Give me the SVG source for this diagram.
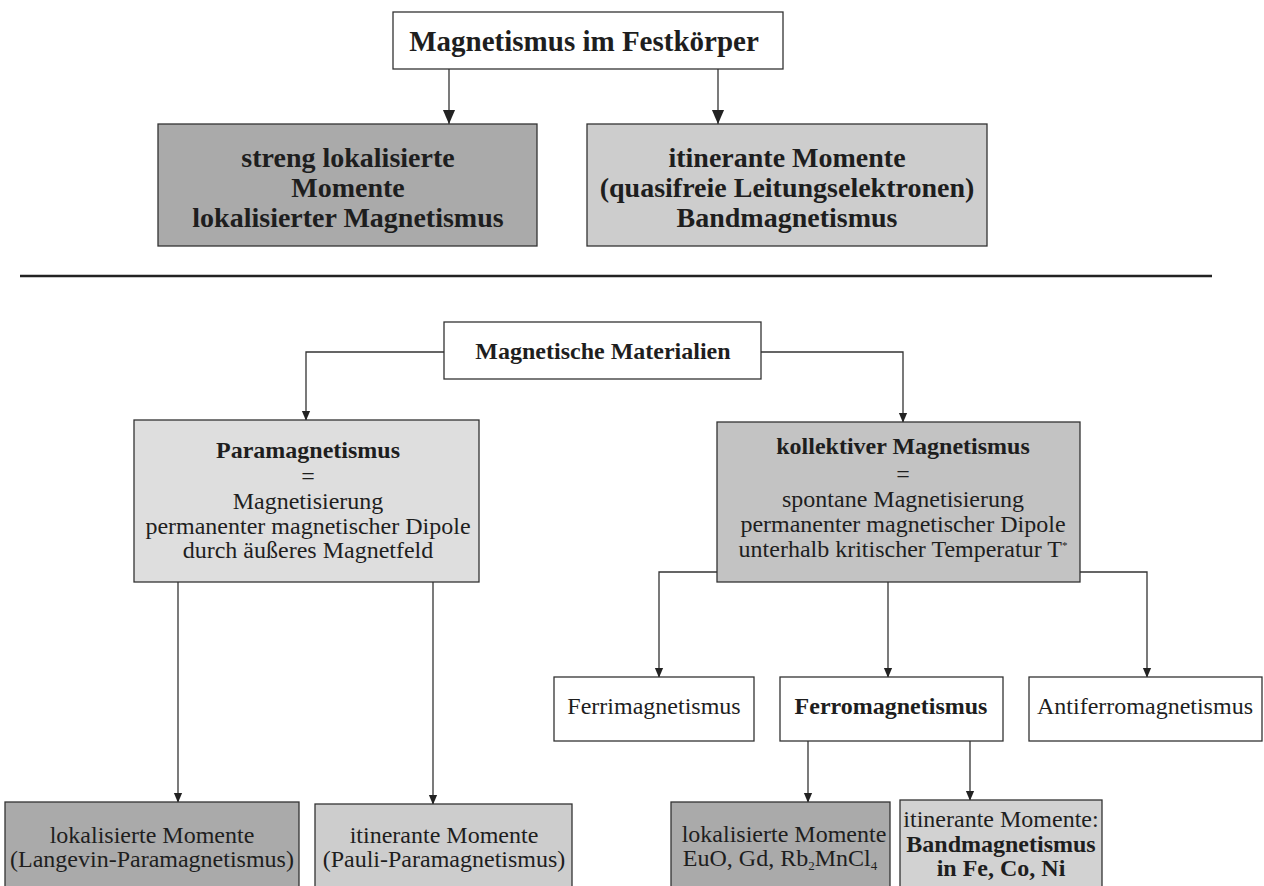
<svg xmlns="http://www.w3.org/2000/svg" width="1264" height="886" viewBox="0 0 1264 886">
<defs>
<style>
text{font-family:"Liberation Serif","Times New Roman",serif;fill:#1e1e1e;text-anchor:middle}
.b{font-weight:bold}
.t28{font-size:28px;font-weight:bold}
.t24{font-size:24px}
.box{stroke:#333;stroke-width:1.3}
.w{fill:#fff}
.dk{fill:#aaaaaa}
.lt{fill:#cdcdcd}
.pl{fill:#dedede}
.md{fill:#c3c3c3}
.bd{fill:#d2d2d2}
.c{fill:none;stroke:#333;stroke-width:1.3}
</style>
<marker id="aS" markerUnits="userSpaceOnUse" markerWidth="10" markerHeight="12" refX="11" refY="5" orient="auto" viewBox="0 0 12 10">
<path d="M0,0 L12,5 L0,10 Z" fill="#222"/>
</marker>
<marker id="aB" markerUnits="userSpaceOnUse" markerWidth="14" markerHeight="14" refX="15" refY="6.5" orient="auto" viewBox="0 0 15 13">
<path d="M0,0 L15,6.5 L0,13 Z" fill="#222"/>
</marker>
</defs>

<g id="connectors">
<path class="c" d="M449,69 V124" marker-end="url(#aB)"/>
<path class="c" d="M718,69 V124" marker-end="url(#aB)"/>
<line x1="20" y1="276" x2="1212" y2="276" stroke="#222" stroke-width="2.5"/>
<path class="c" d="M444,352 H306 V420" marker-end="url(#aS)"/>
<path class="c" d="M761,352 H903 V422" marker-end="url(#aS)"/>
<path class="c" d="M717,572 H659 V677" marker-end="url(#aS)"/>
<path class="c" d="M888,582 V677" marker-end="url(#aS)"/>
<path class="c" d="M1080,572 H1147 V677" marker-end="url(#aS)"/>
<path class="c" d="M178,582 V802" marker-end="url(#aS)"/>
<path class="c" d="M433,582 V804" marker-end="url(#aS)"/>
<path class="c" d="M808,741 V802" marker-end="url(#aS)"/>
<path class="c" d="M970,741 V800" marker-end="url(#aS)"/>
</g>

<g id="festkoerper">
<rect class="box w" x="393" y="12" width="390" height="57"/>
<text x="584" y="51" class="b" font-size="29">Magnetismus im Festkörper</text>
</g>

<g id="lokalisiert">
<rect class="box dk" x="158" y="124" width="379" height="122"/>
<text x="348" y="167" class="t28">streng lokalisierte</text>
<text x="348" y="197" class="t28">Momente</text>
<text x="348" y="227" class="t28">lokalisierter Magnetismus</text>
</g>

<g id="itinerant">
<rect class="box lt" x="587" y="124" width="400" height="122"/>
<text x="787" y="167" class="t28">itinerante Momente</text>
<text x="787" y="197" class="t28">(quasifreie Leitungselektronen)</text>
<text x="787" y="227" class="t28">Bandmagnetismus</text>
</g>

<g id="materialien">
<rect class="box w" x="444" y="322" width="317" height="57"/>
<text x="603" y="359" class="t24 b">Magnetische Materialien</text>
</g>

<g id="paramagnetismus">
<rect class="box pl" x="134" y="420" width="345" height="162"/>
<text x="308" y="458" class="t24 b">Paramagnetismus</text>
<text x="308" y="484" class="t24">=</text>
<text x="308" y="509" class="t24">Magnetisierung</text>
<text x="308" y="534" class="t24">permanenter magnetischer Dipole</text>
<text x="308" y="558" class="t24">durch äußeres Magnetfeld</text>
</g>

<g id="kollektiv">
<rect class="box md" x="717" y="422" width="363" height="160"/>
<text x="903" y="454" class="t24 b">kollektiver Magnetismus</text>
<text x="903" y="482" class="t24">=</text>
<text x="903" y="507" class="t24">spontane Magnetisierung</text>
<text x="903" y="532" class="t24">permanenter magnetischer Dipole</text>
<text x="903" y="557" class="t24">unterhalb kritischer Temperatur T<tspan font-size="11" dy="-8">*</tspan></text>
</g>

<g id="ferri">
<rect class="box w" x="554" y="677" width="200" height="64"/>
<text x="654" y="714" class="t24">Ferrimagnetismus</text>
</g>

<g id="ferro">
<rect class="box w" x="780" y="677" width="223" height="64"/>
<text x="891" y="714" class="t24 b">Ferromagnetismus</text>
</g>

<g id="antiferro">
<rect class="box w" x="1029" y="677" width="233" height="64"/>
<text x="1145" y="714" class="t24">Antiferromagnetismus</text>
</g>

<g id="langevin">
<rect class="box dk" x="5" y="802" width="294" height="90"/>
<text x="152" y="843" class="t24">lokalisierte Momente</text>
<text x="152" y="867" class="t24">(Langevin-Paramagnetismus)</text>
</g>

<g id="pauli">
<rect class="box lt" x="315" y="804" width="257" height="90"/>
<text x="444" y="843" class="t24">itinerante Momente</text>
<text x="444" y="867" class="t24">(Pauli-Paramagnetismus)</text>
</g>

<g id="euo">
<rect class="box dk" x="671" y="802" width="219" height="90"/>
<text x="784" y="842" class="t24">lokalisierte Momente</text>
<text x="780" y="866" class="t24">EuO, Gd, Rb<tspan font-size="13" dy="4">2</tspan><tspan dy="-4">MnCl</tspan><tspan font-size="13" dy="4">4</tspan></text>
</g>

<g id="band">
<rect class="box bd" x="900" y="800" width="202" height="92"/>
<text x="1001" y="827" class="t24">itinerante Momente:</text>
<text x="1001" y="852" class="t24 b">Bandmagnetismus</text>
<text x="1001" y="876" class="t24 b">in Fe, Co, Ni</text>
</g>
</svg>
